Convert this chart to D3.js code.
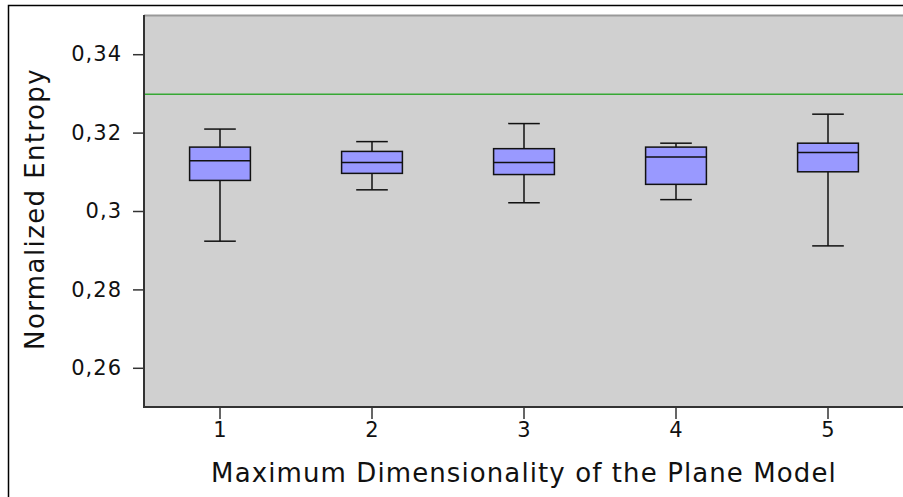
<!DOCTYPE html>
<html>
<head>
<meta charset="utf-8">
<script src="https://cdn.jsdelivr.net/npm/d3@7"></script>
<style>
  body { margin: 0; background: #fff; }
  text { font-family: "DejaVu Sans", sans-serif; fill: #111; }
</style>
</head>
<body>
<div id="chart"></div>
<script>
// 全体
const SVG_WIDTH = 903;
const SVG_HEIGHT = 497;
// プロット領域 (top, right, bottom, left)
const PLOT = [15, 904, 407, 144];

// データ
const categories = ['1', '2', '3', '4', '5'];
const whisker_low  = [0.2923, 0.3054, 0.3021, 0.3029, 0.2911];
const q1           = [0.3078, 0.3096, 0.3093, 0.3068, 0.3100];
const medians      = [0.3128, 0.3124, 0.3124, 0.3138, 0.3149];
const q3           = [0.3163, 0.3152, 0.3159, 0.3163, 0.3173];
const whisker_high = [0.3209, 0.3177, 0.3223, 0.3173, 0.3247];
const reference_value = 0.33;
const y_ticks = [0.26, 0.28, 0.30, 0.32, 0.34];

const svg = d3.select('#chart')
    .append('svg')
    .attr('width', SVG_WIDTH)
    .attr('height', SVG_HEIGHT)
;

// 外枠
svg.append('path')
    .attr('d', `M8.5,${SVG_HEIGHT} V5.5 H${SVG_WIDTH}`)
    .attr('fill', 'none')
    .attr('stroke', '#000')
    .attr('stroke-width', 1.5)
;

const x = d3.scaleBand()
    .domain(categories)
    .range([PLOT[3], PLOT[1]])
;
const y = d3.scaleLinear()
    .domain([0.25, 0.35])
    .range([PLOT[2], PLOT[0]])
;

// 背景
svg.append('rect')
    .attr('x', PLOT[3])
    .attr('y', PLOT[0])
    .attr('width', PLOT[1] - PLOT[3])
    .attr('height', PLOT[2] - PLOT[0])
    .attr('fill', '#d0d0d0')
;
// 上の枠線
svg.append('line')
    .attr('x1', PLOT[3]).attr('x2', SVG_WIDTH)
    .attr('y1', PLOT[0] + 0.5).attr('y2', PLOT[0] + 0.5)
    .attr('stroke', '#999')
    .attr('stroke-width', 2)
;

// 基準線
svg.append('line')
    .attr('x1', PLOT[3]).attr('x2', SVG_WIDTH)
    .attr('y1', y(reference_value) + 0.8).attr('y2', y(reference_value) + 0.8)
    .attr('stroke', '#36a834')
    .attr('stroke-width', 1.5)
;

// 軸
const fmt = d3.formatLocale({decimal: ',', thousands: '.', grouping: [3], currency: ['', '']}).format('.2~f');
const y_axis = svg.append('g')
    .attr('transform', `translate(${PLOT[3]},0)`)
    .call(d3.axisLeft(y).tickValues(y_ticks).tickSize(11).tickPadding(11).tickFormat(fmt))
;
const x_axis = svg.append('g')
    .attr('transform', `translate(0,${PLOT[2]})`)
    .call(d3.axisBottom(x).tickSize(12).tickPadding(3))
;
[y_axis, x_axis].forEach(a => {
    a.select('.domain').remove();
    a.selectAll('.tick line').attr('stroke', '#333').attr('stroke-width', 1.5);
    a.selectAll('.tick text').attr('font-size', 21).attr('fill', '#111');
});
y_axis.selectAll('.tick text').attr('letter-spacing', 1);

// 軸線
svg.append('path')
    .attr('d', `M${PLOT[3]},${PLOT[0]} V${PLOT[2]} H${SVG_WIDTH}`)
    .attr('fill', 'none')
    .attr('stroke', '#333')
    .attr('stroke-width', 2)
;

// 箱ひげ
const box_w = x.bandwidth() * 0.4;
const cap_w = box_w * 0.52;
const boxes = svg.append('g')
    .attr('stroke', '#111')
    .attr('stroke-width', 1.5)
;
categories.forEach((c, i) => {
    const cx = x(c) + x.bandwidth() / 2;
    const g = boxes.append('g');
    g.append('line')
        .attr('x1', cx).attr('x2', cx)
        .attr('y1', y(whisker_high[i])).attr('y2', y(whisker_low[i]))
    ;
    g.append('line')
        .attr('x1', cx - cap_w / 2).attr('x2', cx + cap_w / 2)
        .attr('y1', y(whisker_high[i])).attr('y2', y(whisker_high[i]))
    ;
    g.append('line')
        .attr('x1', cx - cap_w / 2).attr('x2', cx + cap_w / 2)
        .attr('y1', y(whisker_low[i])).attr('y2', y(whisker_low[i]))
    ;
    g.append('rect')
        .attr('x', cx - box_w / 2)
        .attr('y', y(q3[i]))
        .attr('width', box_w)
        .attr('height', y(q1[i]) - y(q3[i]))
        .attr('fill', '#9999ff')
    ;
    g.append('line')
        .attr('x1', cx - box_w / 2).attr('x2', cx + box_w / 2)
        .attr('y1', y(medians[i])).attr('y2', y(medians[i]))
    ;
});

// 軸タイトル
svg.append('text')
    .text('Maximum Dimensionality of the Plane Model')
    .attr('x', (212 + 836) / 2)
    .attr('y', 482)
    .attr('text-anchor', 'middle')
    .attr('font-size', 26)
    .attr('letter-spacing', 1.1)
;
svg.append('text')
    .text('Normalized Entropy')
    .attr('transform', `translate(44,${(68 + 350) / 2}) rotate(-90)`)
    .attr('text-anchor', 'middle')
    .attr('font-size', 26)
    .attr('letter-spacing', 1.4)
;
</script>
</body>
</html>
